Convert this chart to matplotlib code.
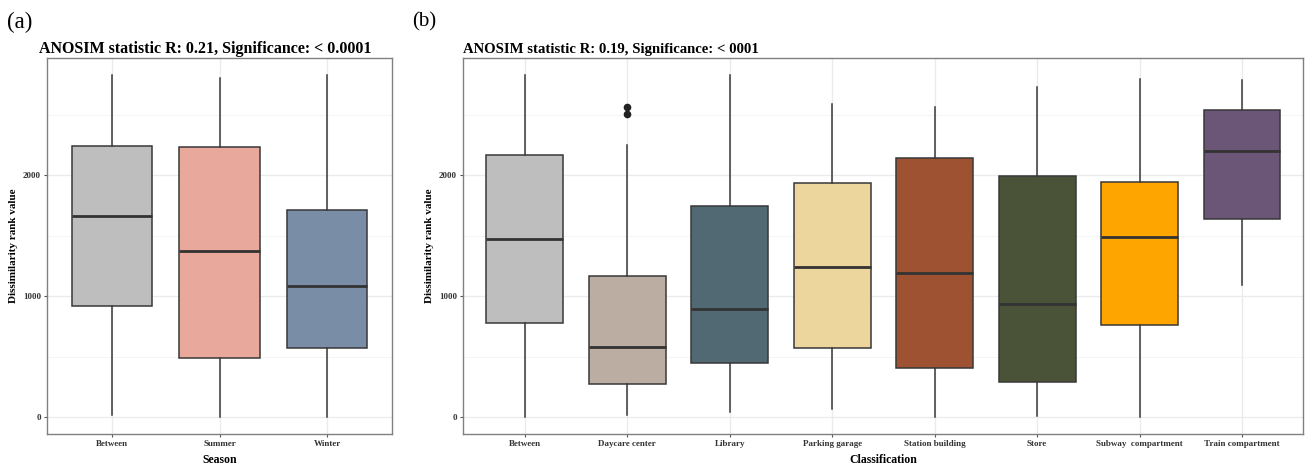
import matplotlib
matplotlib.use("Agg")
from matplotlib import pyplot as plt

## panel (a): season
season_names = ["Between", "Summer", "Winter"]
season_colors = ["#BEBEBE", "#E8A89C", "#7A8DA6"]
season_whislo = [14, 0, 0]
season_q1 = [922, 491, 569]
season_med = [1664, 1377, 1082]
season_q3 = [2244, 2236, 1714]
season_whishi = [2829, 2810, 2829]

## panel (b): classification
class_names = ["Between", "Daycare center", "Library", "Parking garage",
               "Station building", "Store", "Subway  compartment", "Train compartment"]
class_colors = ["#BEBEBE", "#BBADA1", "#506973", "#EDD59E",
                "#9E5232", "#4A5337", "#FFA500", "#6B5677"]
class_whislo = [0, 14, 41, 66, 0, 11, 0, 1090]
class_q1 = [776, 273, 447, 574, 403, 287, 759, 1637]
class_med = [1477, 582, 894, 1242, 1192, 936, 1493, 2202]
class_q3 = [2172, 1167, 1750, 1940, 2142, 1998, 1946, 2545]
class_whishi = [2829, 2249, 2829, 2592, 2564, 2735, 2796, 2788]
class_fliers = [[], [2509, 2567], [], [], [], [], [], []]

plt.rcParams['font.family'] = ['Liberation Serif', 'DejaVu Serif']


def make_stats(names, lo, q1, med, q3, hi, fliers=None):
    stats = []
    for i in range(len(names)):
        stats.append({
            "label": names[i], "whislo": lo[i], "q1": q1[i], "med": med[i],
            "q3": q3[i], "whishi": hi[i],
            "fliers": fliers[i] if fliers else [],
        })
    return stats


def draw_panel(ax, stats, colors, xlabel):
    n = len(stats)
    pos = list(range(n))
    bp = ax.bxp(stats, positions=pos, widths=0.75, patch_artist=True,
                showcaps=False, zorder=3,
                boxprops=dict(edgecolor="#383838", linewidth=1.1),
                medianprops=dict(color="#333333", linewidth=2.0),
                whiskerprops=dict(color="#383838", linewidth=1.1),
                flierprops=dict(marker="o", markerfacecolor="#222222",
                                markeredgecolor="#222222", markersize=4.5))
    for patch, c in zip(bp["boxes"], colors):
        patch.set_facecolor(c)
    ax.set_xlim(-0.6, n - 0.4)
    ax.set_ylim(-141, 2970)
    ax.set_yticks([0, 1000, 2000])
    ax.set_yticks([500, 1500, 2500], minor=True)
    ax.grid(which="major", color="#EBEBEB", linewidth=1.0, zorder=0)
    ax.grid(which="minor", axis="y", color="#F2F2F2", linewidth=0.6, zorder=0)
    ax.set_axisbelow(True)
    ax.tick_params(axis="both", which="major", length=2.5, width=0.8,
                   color="#555555", labelsize=6.5, pad=2, labelcolor="#333333")
    ax.tick_params(axis="y", which="minor", length=0)
    for lab in ax.get_xticklabels() + ax.get_yticklabels():
        lab.set_fontweight("bold")
    for sp in ax.spines.values():
        sp.set_color("#808080")
        sp.set_linewidth(1.0)
    ax.set_xlabel(xlabel, fontsize=8.5, fontweight="bold", labelpad=4)
    ax.set_ylabel("Dissimilarity rank value", fontsize=8, fontweight="bold", labelpad=4)


fig = plt.figure(figsize=(13.07, 4.69), dpi=100)
ax_a = fig.add_axes([0.0362, 0.0746, 0.2635, 0.8011])
ax_b = fig.add_axes([0.3545, 0.0746, 0.6428, 0.8011])

draw_panel(ax_a, make_stats(season_names, season_whislo, season_q1, season_med,
                            season_q3, season_whishi),
           season_colors, "Season")
draw_panel(ax_b, make_stats(class_names, class_whislo, class_q1, class_med,
                            class_q3, class_whishi, class_fliers),
           class_colors, "Classification")

## panel titles
fig.text(39 / 1307, 1 - 53 / 469, "ANOSIM statistic R: 0.21, Significance: < 0.0001",
         fontsize=11.5, fontweight="bold", ha="left", va="baseline")
fig.text(463 / 1307, 1 - 53 / 469, "ANOSIM statistic R: 0.19, Significance: < 0001",
         fontsize=10.6, fontweight="bold", ha="left", va="baseline")

fig.text(0.005, 1 - 22 / 469, "(a)", fontsize=16.5, va="center", ha="left")
fig.text(0.315, 1 - 22 / 469, "(b)", fontsize=15, va="center", ha="left")

fig.savefig("out.png", dpi=100)
